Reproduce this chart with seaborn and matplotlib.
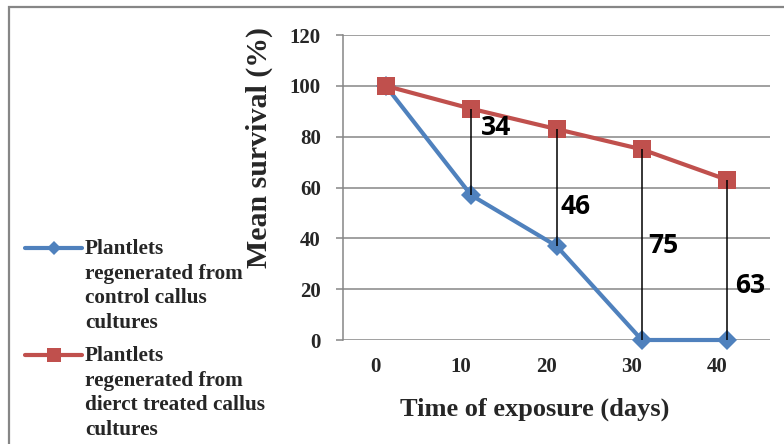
import matplotlib
matplotlib.use("Agg")
import matplotlib.pyplot as plt
from matplotlib.patches import Rectangle
from matplotlib.lines import Line2D
import seaborn as sns
import pandas as pd

# Survival data
days = ["0", "10", "20", "30", "40"]
control_survival = [100, 57, 37, 0, 0]
treated_survival = [100, 91, 83, 75, 63]
series_names = [
    "Plantlets\nregenerated from\ncontrol callus\ncultures",
    "Plantlets\nregenerated from\ndierct treated callus\ncultures",
]
yticks = [0, 20, 40, 60, 80, 100, 120]

# Where the difference labels sit (data units)
label_x_offset = [0.11, 0.05, 0.08, 0.09]
label_y = [83.5, 52.5, 37, 21.5]

BLUE = "#4F81BD"
RED = "#C0504D"
GRID = "#868686"
SERIF = "Liberation Serif"

sns.set_theme(style="white")
plt.rcParams["font.family"] = [SERIF, "DejaVu Serif"]

n = len(days)
pos = list(range(n))
df = pd.DataFrame({
    "pos": pos * 2,
    "survival": control_survival + treated_survival,
    "series": [series_names[0]] * n + [series_names[1]] * n,
})

W, H = 784, 444
fig = plt.figure(figsize=(W / 100, H / 100), dpi=100)
ax = fig.add_axes([343 / W, 1 - 340 / H, (770 - 343) / W, (340 - 35) / H])

sns.lineplot(
    data=df, x="pos", y="survival", hue="series", style="series",
    palette=[BLUE, RED], markers=["D", "s"], dashes=False,
    markersize=10, linewidth=3, markeredgewidth=0, ax=ax, legend=False,
    zorder=3, clip_on=False,
)
lines = ax.get_lines()
lines[0].set_markersize(10.5)
lines[1].set_markersize(13.5)

# Drop lines between the two curves with the difference
for i in range(1, n):
    ax.vlines(pos[i], control_survival[i], treated_survival[i],
              color="black", linewidth=1.1, zorder=4)
    diff = treated_survival[i] - control_survival[i]
    ax.text(pos[i] + label_x_offset[i - 1], label_y[i - 1], f"{diff}",
            fontsize=19, fontweight="bold", family="Open Sans",
            ha="left", va="center", color="black", zorder=5)

ax.set_xlim(-0.5, n - 0.5)
ax.set_ylim(0, 120)
ax.set_yticks(yticks)
ax.set_yticklabels([str(v) for v in yticks], fontsize=15, fontweight="bold")
# category labels sit slightly left of the category centres
ax.set_xticks([p - 0.12 for p in pos])
ax.set_xticklabels(days, fontsize=15, fontweight="bold")

ax.grid(axis="y", color=GRID, linewidth=1.1)
ax.set_axisbelow(True)
for side in ["top", "right", "bottom"]:
    ax.spines[side].set_visible(False)
ax.spines["left"].set_color(GRID)
ax.spines["left"].set_linewidth(1.1)
ax.tick_params(axis="y", length=5, width=1.1, color=GRID, pad=11, left=True)
ax.tick_params(axis="x", length=0, pad=12)

ax.set_xlabel("Time of exposure (days)", fontsize=19, fontweight="bold")
ax.xaxis.set_label_coords(0.45, -0.19)
ax.set_ylabel("Mean survival (%)", fontsize=21.5, fontweight="bold")
ax.yaxis.set_label_coords(-0.165, 0.63)

# Legend on the left: handle aligned with the first line of each label
legend_rows = [248, 355]          # pixel row of each entry's first line
legend_styles = [(BLUE, "D", 7), (RED, "s", 9.5)]
for name, row, (col, mk, ms) in zip(series_names, legend_rows, legend_styles):
    y = 1 - row / H
    fig.add_artist(Line2D([25 / W, 53.5 / W, 82 / W], [y, y, y],
                          transform=fig.transFigure, color=col, lw=3,
                          marker=mk, markersize=ms, markeredgewidth=0,
                          markevery=[1], solid_capstyle="round"))
    fig.text(85 / W, 1 - (row - 9) / H, name, ha="left", va="top",
             fontsize=15.3, fontweight="bold", family=SERIF,
             linespacing=1.3)

# Chart-area border
fig.add_artist(Rectangle((9 / W, -0.1), 2.0, 1 - 7 / H + 0.1,
                         transform=fig.transFigure, fill=False,
                         edgecolor=GRID, linewidth=1.6, zorder=0))

fig.savefig("out.png", dpi=100)
